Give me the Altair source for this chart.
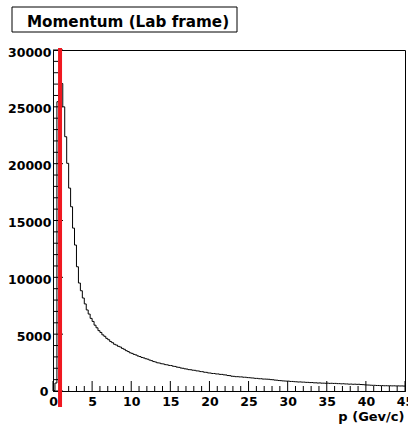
import altair as alt
import pandas as pd

# ---------------- data ----------------
title_text = "Momentum (Lab frame)"
x_title = "p (Gev/c)"

bin_low = 0.0
bin_width = 0.25
counts = [
    40, 700, 25450, 26600, 27050, 25000, 22370, 20030, 17850, 16210,
    14330, 12840, 10930, 9500, 8820, 8180, 7660, 7130, 6770, 6390,
    6120, 5790, 5560, 5310, 5150, 4940, 4810, 4630, 4510, 4350,
    4250, 4110, 4040, 3930, 3870, 3750, 3670, 3550, 3470, 3360,
    3310, 3220, 3170, 3080, 3030, 2950, 2910, 2840, 2800, 2720,
    2670, 2590, 2550, 2480, 2460, 2400, 2380, 2320, 2300, 2250,
    2240, 2180, 2160, 2100, 2080, 2020, 2000, 1950, 1930, 1880,
    1870, 1830, 1820, 1770, 1760, 1710, 1700, 1650, 1640, 1590,
    1580, 1540, 1540, 1500, 1500, 1460, 1460, 1420, 1410, 1360,
    1350, 1300, 1290, 1260, 1260, 1240, 1240, 1210, 1210, 1180,
    1170, 1150, 1140, 1110, 1110, 1080, 1080, 1050, 1050, 1040,
    1030, 1000, 990, 960, 950, 920, 910, 890, 880, 870,
    870, 840, 840, 820, 810, 790, 800, 780, 780, 760,
    760, 740, 745, 720, 720, 700, 710, 690, 690, 680,
    690, 670, 680, 665, 670, 650, 650, 630, 640, 620,
    620, 600, 610, 590, 600, 585, 590, 570, 560, 545,
    530, 525, 510, 500, 500, 485, 485, 470, 475, 460,
    465, 455, 460, 450, 455, 445, 450, 440, 445, 435,
]

x_domain = [0, 45]
y_domain = [0, 30000]
x_major = [0, 5, 10, 15, 20, 25, 30, 35, 40, 45]
x_minor = [1, 2, 3, 4, 6, 7, 8, 9, 11, 12, 13, 14, 16, 17, 18, 19,
           21, 22, 23, 24, 26, 27, 28, 29, 31, 32, 33, 34, 36, 37, 38, 39,
           41, 42, 43, 44]
y_major = [0, 5000, 10000, 15000, 20000, 25000, 30000]
y_minor = [1000, 2000, 3000, 4000, 6000, 7000, 8000, 9000,
           11000, 12000, 13000, 14000, 16000, 17000, 18000, 19000,
           21000, 22000, 23000, 24000, 26000, 27000, 28000, 29000]

cut_p = [0.9]
cut_y_low = [-1400]
cut_y_high = [30180]

# ---------------- tables ----------------
edges = [bin_low + i * bin_width for i in range(len(counts) + 1)]
hist = pd.DataFrame({"p": edges, "count": counts + [counts[-1]]})
cut = pd.DataFrame({"p": cut_p, "count": cut_y_low, "y1": cut_y_high})
ymaj = pd.DataFrame({"count": y_major})
ymin = pd.DataFrame({"count": y_minor})
xmaj = pd.DataFrame({"p": x_major})
xmin = pd.DataFrame({"p": x_minor})
ttl = pd.DataFrame({"t": [title_text]})

FONT = "DejaVu Sans"
W, H = 352, 341
xscale = alt.Scale(domain=x_domain, nice=False, zero=False)
yscale = alt.Scale(domain=y_domain, nice=False)

xaxis = alt.Axis(
    values=x_major, format="d", ticks=False, grid=False,
    domainColor="black", domainWidth=1,
    labelFont=FONT, labelFontWeight="bold", labelFontSize=12.5,
    labelColor="black", labelPadding=4, labelFlush=False,
    labelOverlap=False, labelBound=False,
    title=x_title, titleFont=FONT, titleFontWeight="bold",
    titleFontSize=13, titleColor="black", titleAnchor="end",
    titleAlign="right", titleBaseline="alphabetic",
    titleX=W - 1, titleY=29)
yaxis = alt.Axis(
    values=y_major, format="d", ticks=False, grid=False,
    domainColor="black", domainWidth=1,
    labelFont=FONT, labelFontWeight="bold", labelFontSize=12.5,
    labelColor="black",
    labelPadding=alt.condition("datum.value == 0", alt.value(5), alt.value(2)),
    labelOffset=alt.condition("datum.value == 0", alt.value(0), alt.value(2)),
    labelOverlap=False, labelBound=False, labelFlush=False,
    title=None)

X = alt.X("p:Q", scale=xscale, axis=xaxis)
Y = alt.Y("count:Q", scale=yscale, axis=yaxis)

line = alt.Chart(hist).mark_line(
    interpolate="step-after", color="black", strokeWidth=1
).encode(x=X, y=Y)

ytick_major = alt.Chart(ymaj).mark_rule(color="black", strokeWidth=1).encode(
    y=Y, x=alt.value(0), x2=alt.value(10))
ytick_minor = alt.Chart(ymin).mark_rule(color="black", strokeWidth=1).encode(
    y=Y, x=alt.value(0), x2=alt.value(5))
xtick_major = alt.Chart(xmaj).mark_rule(color="black", strokeWidth=1).encode(
    x=X, y=alt.value(H), y2=alt.value(H - 10))
xtick_minor = alt.Chart(xmin).mark_rule(color="black", strokeWidth=1).encode(
    x=X, y=alt.value(H), y2=alt.value(H - 5))

cutline = alt.Chart(cut).mark_rule(color="#f01820", strokeWidth=4).encode(
    x=X, y=Y, y2="y1:Q")

title_box = alt.Chart(ttl).mark_rect(
    fill="white", stroke="black", strokeWidth=1
).encode(x=alt.value(-41), x2=alt.value(184), y=alt.value(-43), y2=alt.value(-18))

title_txt = alt.Chart(ttl).mark_text(
    align="left", baseline="alphabetic", font=FONT, fontWeight="bold",
    fontSize=15.2, color="black"
).encode(text="t:N", x=alt.value(-26), y=alt.value(-23.3))

chart = alt.layer(
    line, ytick_minor, ytick_major, xtick_minor, xtick_major, cutline,
    title_box, title_txt
).properties(
    width=W, height=H,
    autosize=alt.AutoSizeParams(type="none"),
    padding={"left": 53, "top": 50, "right": 3, "bottom": 36},
    background="white",
).configure_view(stroke="black", strokeWidth=1)

chart.save("out.html", embed_options={"renderer": "svg", "actions": False})
